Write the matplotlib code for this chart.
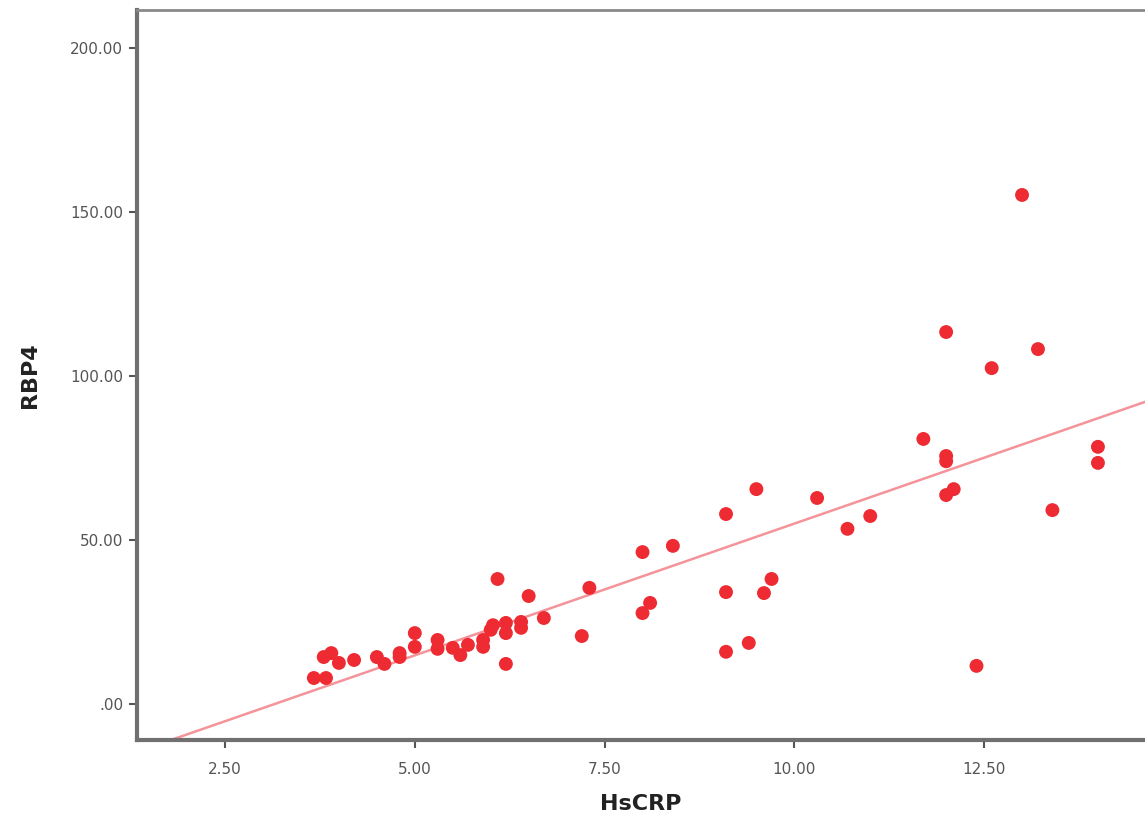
import matplotlib
matplotlib.use("Agg")
import matplotlib.pyplot as plt
import numpy as np

hscrp = [13.0, 12.0, 13.21, 12.6, 11.7, 12.0, 12.0, 14.0, 14.0, 9.5,
         12.1, 12.0, 10.3, 9.1, 11.0, 10.7, 13.4, 8.0, 8.4, 6.09,
         9.7, 7.3, 6.5, 9.1, 9.6, 8.1, 8.0, 6.7, 9.4, 9.1,
         7.2, 12.4, 6.2,
         5.0, 5.0, 5.3, 5.3, 4.8, 4.8, 4.5, 4.6, 4.2, 4.0,
         3.9, 3.8, 3.67, 3.83, 5.5, 5.6, 5.7, 5.9, 5.9, 6.0,
         6.03, 6.2, 6.2, 6.4, 6.4]
rbp4 = [155.2, 113.4, 108.2, 102.4, 80.8, 75.6, 74.0, 78.4, 73.5, 65.5,
        65.5, 63.7, 62.8, 57.9, 57.3, 53.4, 59.1, 46.3, 48.2, 38.1,
        38.1, 35.4, 32.9, 34.1, 33.8, 30.8, 27.7, 26.2, 18.6, 15.9,
        20.7, 11.6, 12.2,
        21.6, 17.4, 19.5, 16.8, 15.5, 14.3, 14.3, 12.2, 13.4, 12.5,
        15.5, 14.3, 7.9, 7.9, 17.1, 14.9, 18.0, 17.4, 19.5, 22.6,
        24.0, 24.7, 21.6, 25.0, 23.2]

x_ticks = [2.5, 5.0, 7.5, 10.0, 12.5]
x_tick_labels = ["2.50", "5.00", "7.50", "10.00", "12.50"]
y_ticks = [0, 50, 100, 150, 200]
y_tick_labels = [".00", "50.00", "100.00", "150.00", "200.00"]

fig = plt.figure(figsize=(11.45, 8.17), dpi=100)
ax = fig.add_axes([137/1145, 1 - 740/817, 1 - 137/1145, (740 - 10)/817])

xlim = (1.34, 14.62)
ylim = (-11.0, 211.6)

slope, intercept = np.polyfit(hscrp, rbp4, 1)
xl = np.array(xlim)
ax.plot(xl, slope * xl + intercept, color="#F4949A", lw=1.8, zorder=2)

ax.scatter(hscrp, rbp4, s=100, color="#EE2A32", edgecolors="none", zorder=3)

ax.set_xlim(*xlim)
ax.set_ylim(*ylim)
ax.set_xticks(x_ticks)
ax.set_xticklabels(x_tick_labels)
ax.set_yticks(y_ticks)
ax.set_yticklabels(y_tick_labels)

for side in ["left", "bottom"]:
    ax.spines[side].set_color("#707070")
    ax.spines[side].set_linewidth(3)
ax.spines["top"].set_color("#8a8a8a")
ax.spines["top"].set_linewidth(2)
ax.spines["right"].set_visible(False)

ax.tick_params(axis="both", direction="out", length=6, width=1.5, color="#555555",
               labelcolor="#555555", labelsize=11)
ax.tick_params(axis="x", pad=10)
ax.tick_params(axis="y", pad=4)

ax.set_xlabel("HsCRP", fontsize=16, fontweight="bold", color="#222222", labelpad=12)
ax.set_ylabel("RBP4", fontsize=16, fontweight="bold", color="#222222", labelpad=22)

fig.savefig("out.png", dpi=100)
